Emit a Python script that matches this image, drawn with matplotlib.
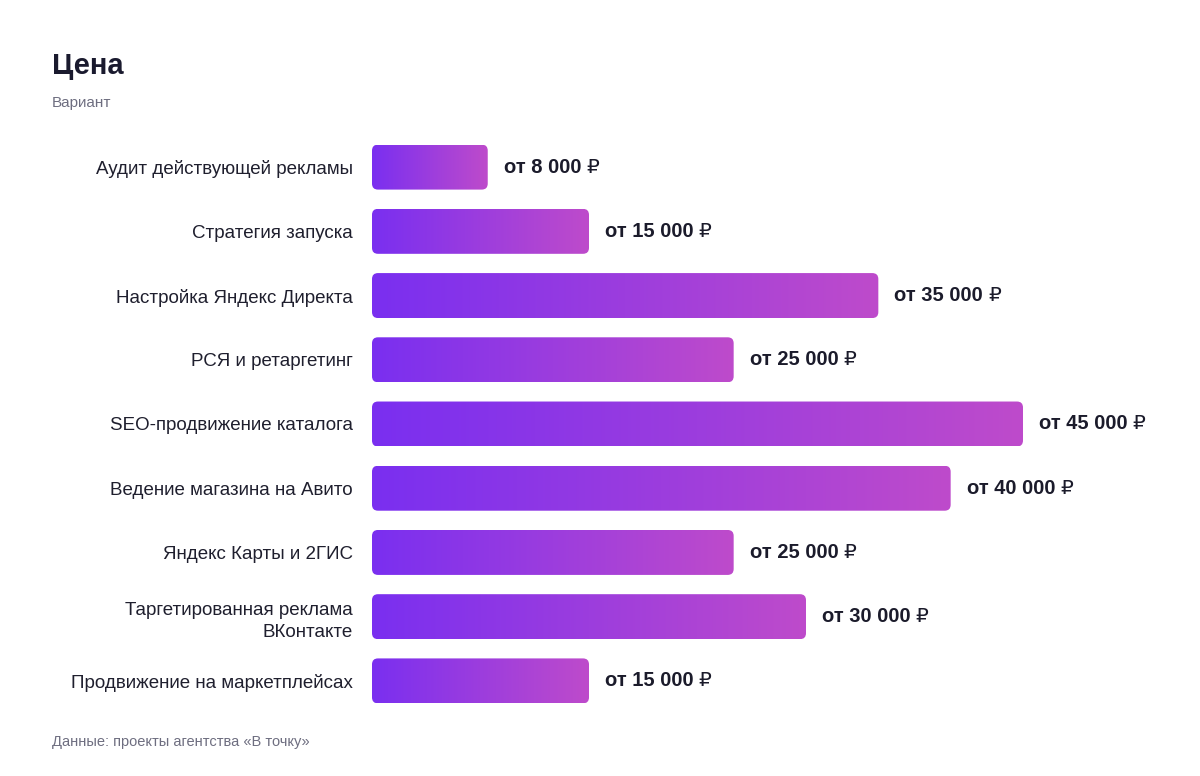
import numpy as np
import matplotlib
matplotlib.use('Agg')
import matplotlib.pyplot as plt
from matplotlib.colors import LinearSegmentedColormap
from matplotlib.patches import FancyBboxPatch

plt.rcParams['font.family'] = ['Liberation Sans', 'DejaVu Sans']

categories = [
    "Аудит действующей рекламы",
    "Стратегия запуска",
    "Настройка Яндекс Директа",
    "РСЯ и ретаргетинг",
    "SEO-продвижение каталога",
    "Ведение магазина на Авито",
    "Яндекс Карты и 2ГИС",
    "Таргетированная реклама\nВКонтакте",
    "Продвижение на маркетплейсах",
]
prices = [8000, 15000, 35000, 25000, 45000, 40000, 25000, 30000, 15000]

title = "Цена"
subtitle = "Вариант"
source = "Данные: проекты агентства «В точку»"

W, H = 1200, 776
fig = plt.figure(figsize=(W / 100, H / 100), dpi=100)
fig.patch.set_facecolor('white')

# оси: 0 -> 372px, 45000 -> 1023px
px_per_unit = (1023 - 372) / 45000
ax_left, ax_right = 372, 1180
ax_top, ax_bot = 135, 713
ax = fig.add_axes([ax_left / W, 1 - ax_bot / H, (ax_right - ax_left) / W, (ax_bot - ax_top) / H])
xmax = (ax_right - ax_left) / px_per_unit
n = len(categories)

cmap = LinearSegmentedColormap.from_list('grad', ['#7a2ff0', '#be4bcb'])
grad = np.linspace(0, 1, 256)[None, :]

bar_h = 0.70
row_px = (ax_bot - ax_top) / n
units_x = 1 / px_per_unit
units_y = 1 / row_px
r_px = 6
value_texts = []
for i, v in enumerate(prices):
    y0 = i - bar_h / 2
    patch = FancyBboxPatch((0, y0), v, bar_h,
                           boxstyle=f"round,pad=0,rounding_size={r_px * units_x}",
                           mutation_aspect=units_y / units_x,
                           facecolor='none', edgecolor='none', transform=ax.transData)
    ax.add_patch(patch)
    im = ax.imshow(grad, cmap=cmap, aspect='auto', extent=[0, v, i + bar_h / 2, y0],
                   interpolation='bilinear')
    im.set_clip_path(patch)
    label = f"от {v:,}".replace(",", " ")
    t = ax.annotate(label, (v, i), xytext=(11.5, 0), textcoords='offset points',
                    va='center', ha='left', fontsize=14.5, fontweight='bold', color='#1b1b2b')
    value_texts.append(t)

ax.set_xlim(0, xmax)
ax.set_ylim(n - 0.5, -0.5)
ax.set_yticks(range(n))
ax.set_yticklabels(categories, fontsize=13.5, color='#1f1f2e', linespacing=1.4)
ax.tick_params(axis='y', length=0, pad=14)
ax.set_xticks([])
for s in ax.spines.values():
    s.set_visible(False)

fig.text(52 / W, 1 - 66 / H, title, fontsize=21, fontweight='bold', color='#1a1a2e', va='center', ha='left')
fig.text(52 / W, 1 - 103 / H, subtitle, fontsize=11, color='#6e6e80', va='center', ha='left')
fig.text(52 / W, 1 - 742 / H, source, fontsize=10.5, color='#6e6e80', va='center', ha='left')

# знак рубля обычным начертанием после жирной суммы
fig.canvas.draw()
renderer = fig.canvas.get_renderer()
for t, v, i in zip(value_texts, prices, range(n)):
    bb = t.get_window_extent(renderer)
    x_fig = (bb.x1 + 5) / W
    y_disp = ax.transData.transform((v, i))[1]
    fig.text(x_fig, y_disp / H, "₽", fontsize=14.5, color='#1b1b2b', va='center', ha='left')

fig.savefig('out.png', dpi=100)
